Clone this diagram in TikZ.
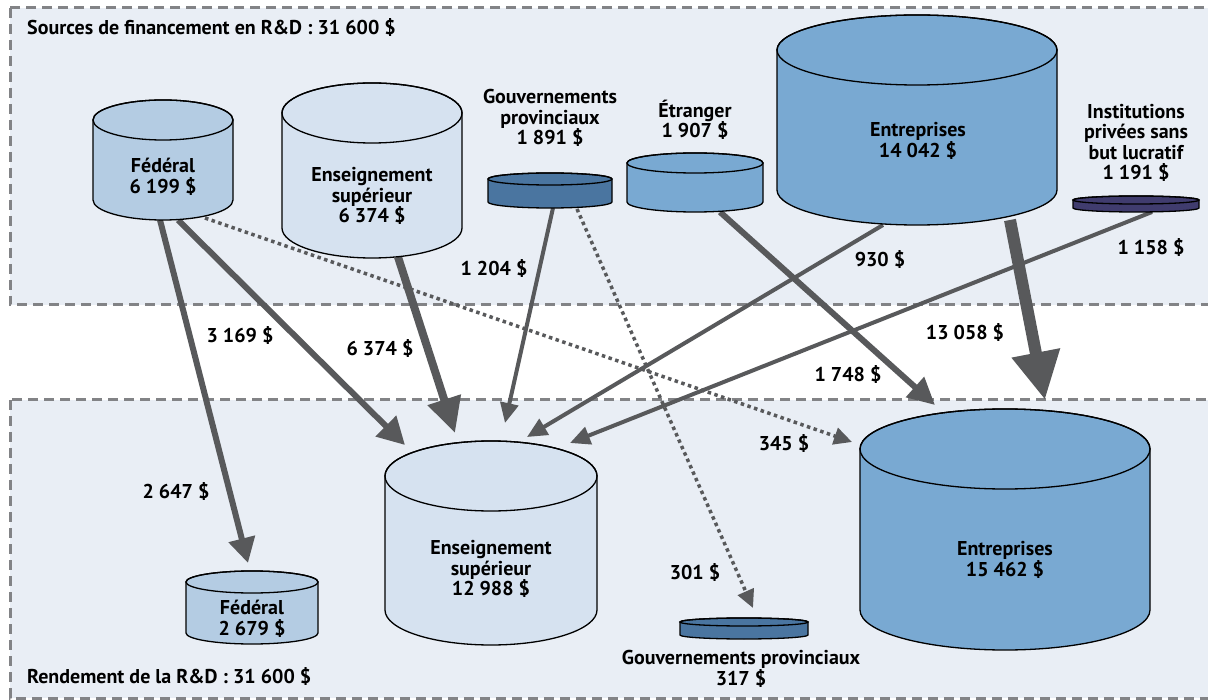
\documentclass[tikz,border=0pt]{standalone}
\usepackage{fontspec}
\setmainfont{PT Sans}
\usetikzlibrary{arrows.meta}
\definecolor{panelfill}{RGB}{233,238,245}
\definecolor{paneledge}{RGB}{130,131,134}
\definecolor{flowgray}{RGB}{88,89,91}
\definecolor{fedblue}{RGB}{180,204,227}
\definecolor{univblue}{RGB}{214,226,240}
\definecolor{provblue}{RGB}{74,117,160}
\definecolor{bizblue}{RGB}{121,169,210}
\definecolor{npviolet}{RGB}{64,60,110}
\newcommand{\drum}[6]{%
  \filldraw[fill=#6, line width=1.3pt] ({#1-#4},#2) -- ({#1-#4},#3) arc (180:0:#4 and #5)
    -- ({#1+#4},#2) arc (0:-180:#4 and #5) -- cycle;
  \draw[line width=1.3pt] (#1,#2) ellipse (#4 and #5);}
\tikzset{
  panel/.style={fill=panelfill, draw=paneledge, line width=3pt, dash pattern=on 10pt off 6pt},
  drumtext/.style={align=center, font=\fontsize{20}{20.5}\selectfont\bfseries, inner sep=0pt},
  amount/.style={font=\fontsize{20}{20.5}\selectfont\bfseries, inner sep=0pt},
  flow/.style={draw=flowgray, line width=#1},
  flowdot/.style={draw=flowgray, line width=3.5pt, dash pattern=on 3.5pt off 3.5pt}
}
\begin{document}
\begin{tikzpicture}[x=1pt, y=-1pt]
      \useasboundingbox (0,0) rectangle (1208,700);
      \path[panel] (10,8) rectangle (1230,305);
      \path[panel] (10,400) rectangle (1230,698);
      \node[amount, anchor=west] (srctitle) at (27,28) {Sources de financement en R\&D : 31 600 \$};
      \node[amount, anchor=west] (outtitle) at (27,676) {Rendement de la R\&D : 31 600 \$};
      \coordinate (fedS-a) at (160,220);
      \coordinate (fedS-b) at (178,220);
      \coordinate (fedS-c) at (205,218);
      \coordinate (univS-a) at (398,257);
      \coordinate (provS-a) at (553,208);
      \coordinate (provS-b) at (577,209);
      \coordinate (forS-a) at (720,212);
      \coordinate (bizS-a) at (883,225);
      \coordinate (bizS-b) at (1010,220);
      \coordinate (npS-a) at (1152,212);
      \coordinate (fedP-in) at (248,563);
      \coordinate (univP-a) at (405,445);
      \coordinate (univP-b) at (455,433);
      \coordinate (univP-c) at (505,423);
      \coordinate (univP-d) at (527,437);
      \coordinate (univP-e) at (570,443);
      \coordinate (provP-in) at (753,608);
      \coordinate (bizP-a) at (852,442);
      \coordinate (bizP-b) at (935,405);
      \coordinate (bizP-c) at (1045,400);
      \begin{scope}[flowgray]
        \draw[flow=6pt, -{Triangle[length=25pt,width=26pt]}] (fedS-a) to (fedP-in);
        \draw[flow=6pt, -{Triangle[length=27pt,width=28pt]}] (fedS-b) to (univP-a);
        \draw[flowdot, -{Triangle[length=18pt,width=17pt]}] (fedS-c) to (bizP-a);
        \draw[flow=8pt, -{Triangle[length=35pt,width=33pt]}] (univS-a) to (univP-b);
        \draw[flow=4pt, -{Triangle[length=20pt,width=18pt]}] (provS-a) to (univP-c);
        \draw[flowdot, -{Triangle[length=18pt,width=17pt]}] (provS-b) to (provP-in);
        \draw[flow=6pt, -{Triangle[length=27pt,width=26pt]}] (forS-a) to (bizP-b);
        \draw[flow=4pt, -{Triangle[length=20pt,width=18pt]}] (bizS-a) to (univP-d);
        \draw[flow=12pt, -{Triangle[length=48pt,width=46pt]}] (bizS-b) to (bizP-c);
        \draw[flow=4pt, -{Triangle[length=20pt,width=18pt]}] (npS-a) to (univP-e);
      \end{scope}
      \drum{163}{120}{200}{70}{20}{fedblue}
      \drum{372}{113}{228}{90}{30}{univblue}
      \drum{550}{179}{202}{62}{6}{provblue}
      \drum{695}{163}{202}{68}{10}{bizblue}
      \drum{917}{50}{190}{140}{35}{bizblue}
      \drum{1136}{200}{208}{63}{4}{npviolet}
      \drum{252}{582}{633}{66}{11}{fedblue}
      \drum{491}{476}{610}{106}{35}{univblue}
      \drum{744}{622}{635}{64}{4}{provblue}
      \drum{1005}{449}{610}{145}{40}{bizblue}
      \node[drumtext] (fedS) at (163,177) {Fédéral\\6 199 \$};
      \node[drumtext] (univS) at (372,196) {Enseignement\\supérieur\\6 374 \$};
      \node[drumtext] (provS) at (550,118) {Gouvernements\\provinciaux\\1 891 \$};
      \node[drumtext] (forS) at (695,120) {Étranger\\1 907 \$};
      \node[drumtext] (bizS) at (918,141) {Entreprises\\14 042 \$};
      \node[drumtext] (npS) at (1136,143) {Institutions\\privées sans\\but lucratif\\1 191 \$};
      \node[drumtext] (fedP) at (252,619) {Fédéral\\2 679 \$};
      \node[drumtext] (univP) at (491,569) {Enseignement\\supérieur\\12 988 \$};
      \node[drumtext] (provP) at (741,669) {Gouvernements provinciaux\\317 \$};
      \node[drumtext] (bizP) at (1005,560) {Entreprises\\15 462 \$};
      \node[amount] (v2647) at (176,491) {2 647 \$};
      \node[amount] (v3169) at (240,336) {3 169 \$};
      \node[amount] (v6374) at (380,349) {6 374 \$};
      \node[amount] (v1204) at (494,269) {1 204 \$};
      \node[amount] (v930) at (880,260) {930 \$};
      \node[amount] (v1158) at (1151,248) {1 158 \$};
      \node[amount] (v13058) at (965,333) {13 058 \$};
      \node[amount] (v1748) at (848,375) {1 748 \$};
      \node[amount] (v345) at (784,444) {345 \$};
      \node[amount] (v301) at (695,572) {301 \$};
    \end{tikzpicture}
\end{document}
